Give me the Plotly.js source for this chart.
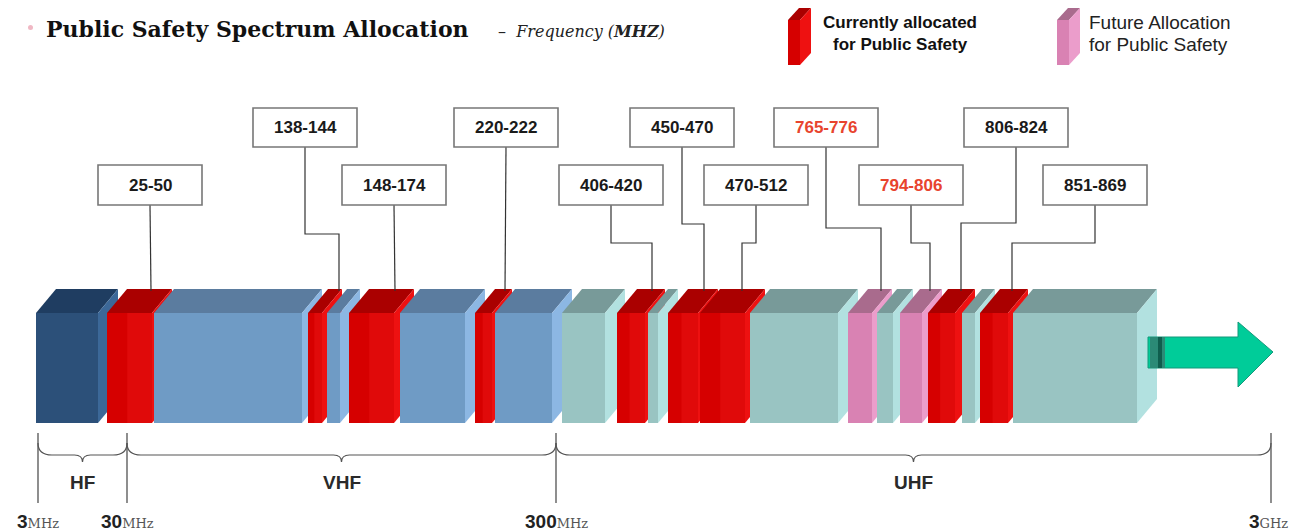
<!DOCTYPE html>
<html><head><meta charset="utf-8">
<script src="https://cdn.plot.ly/plotly-3.0.1.min.js"></script>
<style>html,body{margin:0;padding:0;background:#fff}#chart{width:1292px;height:531px}</style>
</head><body><div id="chart"></div>
<script>
// ---------------- data ----------------
// spectrum blocks, left to right (extent in diagram units along the strip)
const blockKind  = ['hf','cur','vhf','cur','vhf','cur','vhf','cur','vhf','uhf','cur','uhf','cur','cur','uhf','fut','uhf','fut','cur','uhf','cur','uhf'];
const blockStart = [36,107,154,308,327,349,400,475,495,562,617,648,668,700,750,848,877,900,928,962,980,1013];
const blockEnd   = [98,152,302,322,340,394,465,492,552,605,645,658,698,745,838,872,893,922,955,975,1008,1137];

// public-safety allocations (MHz)
const allocLabels = ['25-50','138-144','148-174','220-222','406-420','450-470','470-512','765-776','794-806','806-824','851-869'];
const allocStatus = ['current','current','current','current','current','current','current','future','future','current','current'];

// band ranges
const bandNames   = ['HF','VHF','UHF'];
const edgeNumbers = ['3','30','300','3'];
const edgeUnits   = ['MHz','MHz','MHz','GHz'];

const legendLine1 = ['Currently allocated','Future Allocation'];
const legendLine2 = ['for Public Safety','for Public Safety'];

// ---------------- layout positions ----------------
const calloutX      = [150,305,394,506,611,682,756,826,911,1016,1095];
const calloutRow    = [2,1,2,1,2,1,2,1,2,1,2];
const leaderElbowY  = [null,234,null,null,243,224,243,228,243,223,243];
const leaderTargetX = [151,339,395,505,652,704,742,881,930,961,1012];
const edgeX = [38,127,556,1271];

const FT = 313, FB = 423, DX = 20, DY = 24;
const palette = {
  hf:  {front:'#2c5079', top:'#1f3d61', side:'#3c6898'},
  vhf: {front:'#6f9bc5', top:'#5b7c9f', side:'#8cb7e3'},
  uhf: {front:'#99c4c2', top:'#789a99', side:'#b2e1e0'},
  cur: {front:'#d60000', top:'#aa0000', side:'#ee1111'},
  fut: {front:'#d982b3', top:'#a96b8d', side:'#eb9dcb'}
};

const shapes = [];
const annotations = [];
function poly(pts, fill){
  return {type:'path', xref:'x', yref:'y',
    path: 'M' + pts.map(p => p[0] + ',' + p[1]).join(' L') + ' Z',
    fillcolor: fill, line:{width:0}};
}
function line(pts, color, w){
  return {type:'path', xref:'x', yref:'y',
    path: 'M' + pts.map(p => p[0] + ',' + p[1]).join(' L'),
    line:{color: color, width: w}};
}

// blocks
blockKind.forEach((k, i) => {
  const x0 = blockStart[i], x1 = blockEnd[i], c = palette[k];
  shapes.push(poly([[x0,FT],[x1,FT],[x1,FB],[x0,FB]], c.front));
  shapes.push(poly([[x0,FT],[x0+DX,FT-DY],[x1+DX,FT-DY],[x1,FT]], c.top));
  shapes.push(poly([[x1,FT],[x1+DX,FT-DY],[x1+DX,FB-DY],[x1,FB]], c.side));
  if (k === 'cur') {
    const xm = x0 + (x1 - x0) * 0.45;
    shapes.push(poly([[xm,FT],[x1,FT],[x1,FB],[xm,FB]], 'rgba(255,40,40,0.25)'));
  }
});

// arrow
shapes.push(poly([[1148,337],[1238,337],[1238,322],[1273,352],[1238,387],[1238,368],[1148,368]], '#00cc99'));
shapes.push({type:'path', xref:'x', yref:'y', path:'M1148,337 L1238,337 L1238,322 L1273,352 L1238,387 L1238,368 L1148,368 Z', line:{color:'#13997a', width:1}, fillcolor:'rgba(0,0,0,0)'});
shapes.push(poly([[1150,337],[1165,337],[1165,368],[1150,368]], '#2b8a76'));
shapes.push(poly([[1158,337],[1162,337],[1162,368],[1158,368]], '#0f5e4e'));

// callouts
const rowTop = {1:108, 2:165}, rowBot = {1:147, 2:205};
allocLabels.forEach((lab, i) => {
  const cx = calloutX[i], r = calloutRow[i];
  const pts = [[cx, rowBot[r]]];
  if (leaderElbowY[i] !== null) {
    pts.push([cx, leaderElbowY[i]]);
    pts.push([leaderTargetX[i], leaderElbowY[i]]);
    pts.push([leaderTargetX[i], 291]);
  } else {
    pts.push([leaderTargetX[i], 291]);
  }
  shapes.push(line(pts, '#333333', 1.2));
  shapes.push({type:'rect', xref:'x', yref:'y', x0: cx-52, x1: cx+52, y0: rowTop[r], y1: rowBot[r],
    fillcolor:'#ffffff', line:{color:'#777777', width:1.6}});
  annotations.push({x: cx, y: (rowTop[r]+rowBot[r])/2, xref:'x', yref:'y', text: lab, showarrow:false,
    xanchor:'center', yanchor:'middle',
    font:{family:'Liberation Sans, Arial', size:17, color: allocStatus[i]==='future' ? '#e8442e' : '#1a1a1a', weight:'bold'}});
});

// band edge ticks
edgeX.forEach(x => shapes.push(line([[x,433],[x,503]], '#444444', 1.2)));

// braces
function brace(x0, x1, y){
  const xc = (x0 + x1) / 2;
  return {type:'path', xref:'x', yref:'y',
    path: `M${x0},${y-12} Q${x0},${y} ${x0+14},${y} L${xc-8},${y} Q${xc},${y} ${xc},${y+7} Q${xc},${y} ${xc+8},${y} L${x1-14},${y} Q${x1},${y} ${x1},${y-12}`,
    line:{color:'#555555', width:1.2}};
}
for (let b = 0; b < bandNames.length; b++) {
  const x0 = edgeX[b], x1 = edgeX[b+1];
  shapes.push(brace(x0, x1, 455));
  annotations.push({x:(x0+x1)/2, y:482, xref:'x', yref:'y', text:bandNames[b], showarrow:false,
    xanchor:'center', yanchor:'middle', font:{family:'Liberation Sans, Arial', size:19, color:'#2a2a2a', weight:'bold'}});
}
edgeNumbers.forEach((n, i) => {
  annotations.push({x: i===3 ? 1290 : edgeX[i], y: 521, xref:'x', yref:'y', showarrow:false, xanchor: i===3 ? 'right' : 'center', yanchor:'middle',
    text: `<b>${n}</b><span style="font-family:'DejaVu Serif';font-size:13px;color:#555">${edgeUnits[i]}</span>`,
    font:{family:'Liberation Sans, Arial', size:19, color:'#222'}});
});

// title
shapes.push({type:'circle', xref:'x', yref:'y', x0:28, x1:33, y0:25, y1:30, fillcolor:'#f0b8c4', line:{width:0}});
annotations.push({x:44, y:29, xref:'x', yref:'y', xanchor:'left', yanchor:'middle', showarrow:false,
  text:'<b>Public Safety Spectrum Allocation</b>', font:{family:'DejaVu Serif', size:22, color:'#111'}});
annotations.push({x:496, y:31, xref:'x', yref:'y', xanchor:'left', yanchor:'middle', showarrow:false,
  text:'–  <i>Frequency (<b>MHZ</b>)</i>', font:{family:'DejaVu Serif', size:16, color:'#222'}});

// legend
function slab(x, col){
  shapes.push(poly([[x,20],[x+12,20],[x+12,65],[x,65]], col.front));
  shapes.push(poly([[x,20],[x+11,8],[x+23,8],[x+12,20]], col.top));
  shapes.push(poly([[x+12,20],[x+23,8],[x+23,53],[x+12,65]], col.side));
}
slab(788, palette.cur);
slab(1057, palette.fut);
annotations.push({x:900, y:22, xref:'x', yref:'y', xanchor:'center', yanchor:'middle', showarrow:false,
  text:legendLine1[0], font:{family:'Liberation Sans, Arial', size:17, color:'#111', weight:'bold'}});
annotations.push({x:900, y:44, xref:'x', yref:'y', xanchor:'center', yanchor:'middle', showarrow:false,
  text:legendLine2[0], font:{family:'Liberation Sans, Arial', size:17, color:'#111', weight:'bold'}});
annotations.push({x:1087, y:22, xref:'x', yref:'y', xanchor:'left', yanchor:'middle', showarrow:false,
  text:legendLine1[1], font:{family:'Liberation Sans, Arial', size:19, color:'#222'}});
annotations.push({x:1087, y:44, xref:'x', yref:'y', xanchor:'left', yanchor:'middle', showarrow:false,
  text:legendLine2[1], font:{family:'Liberation Sans, Arial', size:19, color:'#222'}});

const layout = {
  width:1292, height:531, margin:{l:0,r:0,t:0,b:0},
  paper_bgcolor:'#ffffff', plot_bgcolor:'#ffffff', showlegend:false,
  xaxis:{range:[0,1292], visible:false, fixedrange:true},
  yaxis:{range:[531,0], visible:false, fixedrange:true},
  shapes: shapes, annotations: annotations
};
Plotly.newPlot('chart', [{x:[0], y:[0], mode:'markers', marker:{opacity:0}, hoverinfo:'skip'}], layout, {displayModeBar:false, staticPlot:true});
</script></body></html>
